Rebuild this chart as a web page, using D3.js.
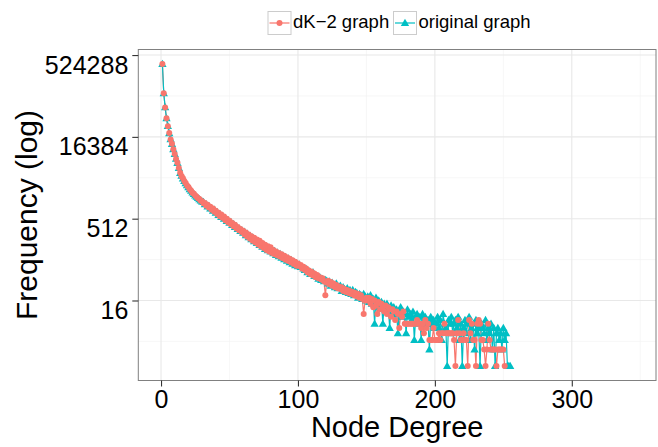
<!DOCTYPE html>
<html>
<head>
<meta charset="utf-8">
<script src="https://cdn.jsdelivr.net/npm/d3@7"></script>
<style>
  html, body { margin: 0; padding: 0; background: #fff; }
  svg { display: block; font-family: "Liberation Sans", Arial, sans-serif; }
</style>
</head>
<body>
<svg id="chart"></svg>
<script>
// Frequency per node degree (degree = index + 1)
const originalGraph = [
  358000, 103500, 57400, 35900, 25900, 19100, 14800, 12100, 9700, 7900,
  6500, 5400, 4400, 3550, 3150, 2820, 2540, 2300, 2110, 1940,
  1790, 1670, 1550, 1460, 1370, 1290, 1225, 1170, 1110, 1060,
  1040, 940, 950, 860, 880, 790, 800, 720, 745, 660,
  680, 600, 625, 550, 575, 510, 525, 465, 480, 430,
  445, 390, 405, 360, 372, 332, 340, 305, 314, 281,
  295, 255, 270, 232, 250, 214, 230, 196, 212, 182,
  198, 168, 182, 156, 170, 142, 158, 134, 150, 128,
  140, 118, 130, 110, 122, 104, 115, 98, 108, 92,
  101, 86, 95, 81, 89, 76, 83, 71, 78, 68,
  74, 66, 66, 62, 58, 61, 53, 56, 49, 51,
  53, 45, 46, 44, 40, 43, 38, 40, 36, 38,
  37, 33, 36, 30, 34, 31, 28, 33, 27, 29,
  30, 24, 28, 26, 23, 27, 22, 25, 21, 25,
  20, 23, 22, 18, 21, 20, 17, 21, 19, 16,
  19, 15, 20, 14, 17, 6, 18, 13, 16, 12,
  15, 6, 14, 11, 14, 12, 5, 13, 10, 12,
  9, 11, 4, 10, 12, 8, 10, 9, 4, 11,
  8, 9, 7, 10, 3, 8, 9, 6, 8, 3,
  9, 7, 8, 6, 7, 2, 8, 6, 7, 5,
  6, 8, 5, 7, 3, 9, 6, 5, 1, 7,
  6, 8, 4, 6, 7, 5, 8, 3, 6, 1,
  5, 7, 4, 6, 8, 3, 5, 6, 2, 7,
  4, 5, 1, 6, 5, 4, 7, 3, 5, 4,
  6, 2, 5, 1, 4, 5, 3, 4, 2, 5,
  3, 4, 1, 1, 1
];

const dk2Graph = [
  358000, 104000, 57000, 36200, 25700, 19300, 14600, 12200, 9650, 7950,
  6450, 5450, 4380, 3580, 3120, 2840, 2520, 2310, 2090, 1950,
  1780, 1680, 1540, 1470, 1360, 1300, 1215, 1180, 1100, 1070,
  980, 1000, 890, 920, 820, 850, 745, 790, 690, 720,
  625, 660, 570, 610, 530, 560, 480, 510, 440, 470,
  405, 425, 370, 395, 340, 360, 315, 330, 290, 306,
  262, 284, 238, 262, 218, 242, 200, 228, 186, 212,
  172, 200, 160, 182, 148, 170, 136, 160, 128, 152,
  120, 136, 114, 128, 108, 120, 102, 114, 96, 106,
  90, 100, 85, 94, 80, 88, 75, 83, 70, 77,
  69, 72, 62, 67, 58, 62, 53, 57, 49, 54,
  46, 50, 43, 47, 41, 43, 39, 41, 36, 20,
  34, 37, 32, 35, 30, 33, 28, 31, 27, 29,
  26, 28, 24, 26, 23, 25, 22, 24, 21, 23,
  20, 22, 19, 21, 18, 20, 17, 9, 16, 18,
  16, 18, 14, 17, 12, 16, 13, 9, 15, 11,
  14, 12, 10, 13, 9, 12, 11, 8, 11, 10,
  7, 10, 9, 5, 9, 8, 10, 6, 6, 6,
  6, 6, 6, 6, 6, 6, 7, 6, 6, 5,
  6, 4, 7, 5, 6, 3, 3, 3, 5, 3,
  3, 3, 4, 3, 4, 4, 6, 4, 4, 4,
  4, 4, 4, 3, 1, 4, 7, 4, 3, 3,
  4, 3, 3, 1, 7, 4, 6, 3, 3, 1,
  6, 7, 6, 3, 3, 2, 1, 2, 6, 3,
  2, 2, 2, 2, 1, 2, 2, 2, 2, 2,
  1
];

const xTicks = [0, 100, 200, 300];
const xMinor = [50, 150, 250, 350];
const yTicks = [16, 512, 16384, 524288];
const yMinor = [Math.pow(2, 1.5), Math.pow(2, 6.5), Math.pow(2, 11.5), Math.pow(2, 16.5)];

const seriesNames = ['dK\u22122 graph', 'original graph'];
const seriesColors = ['#F8766D', '#00BFC4'];

const width = 658, height = 447;
const panel = { left: 138.3, right: 656, top: 49.5, bottom: 380.5 };

const svg = d3.select('#chart')
  .attr('width', width)
  .attr('height', height);

const x = d3.scaleLinear()
  .domain([-16.6, 361.5])
  .range([panel.left, panel.right]);

const y = d3.scaleLog()
  .base(2)
  .domain([Math.pow(2, -0.89), Math.pow(2, 19.34)])
  .range([panel.bottom, panel.top]);

// Grid lines (minor first, then major)
const grid = svg.append('g');
grid.selectAll('.xminor').data(xMinor).enter().append('line')
  .attr('x1', d => x(d)).attr('x2', d => x(d))
  .attr('y1', panel.top).attr('y2', panel.bottom)
  .attr('stroke', '#f4f4f4').attr('stroke-width', 0.7);
grid.selectAll('.yminor').data(yMinor).enter().append('line')
  .attr('x1', panel.left).attr('x2', panel.right)
  .attr('y1', d => y(d)).attr('y2', d => y(d))
  .attr('stroke', '#f4f4f4').attr('stroke-width', 0.7);
grid.selectAll('.xmajor').data(xTicks).enter().append('line')
  .attr('x1', d => x(d)).attr('x2', d => x(d))
  .attr('y1', panel.top).attr('y2', panel.bottom)
  .attr('stroke', '#e8e8e8').attr('stroke-width', 1.1);
grid.selectAll('.ymajor').data(yTicks).enter().append('line')
  .attr('x1', panel.left).attr('x2', panel.right)
  .attr('y1', d => y(d)).attr('y2', d => y(d))
  .attr('stroke', '#e8e8e8').attr('stroke-width', 1.1);

// Series data
const series = [
  { name: seriesNames[0], color: seriesColors[0], shape: 'circle',
    values: dk2Graph.map((v, i) => ({ deg: i + 1, freq: v })) },
  { name: seriesNames[1], color: seriesColors[1], shape: 'triangle',
    values: originalGraph.map((v, i) => ({ deg: i + 1, freq: v })) }
];

svg.append('clipPath').attr('id', 'clip')
  .append('rect')
  .attr('x', panel.left).attr('y', panel.top)
  .attr('width', panel.right - panel.left)
  .attr('height', panel.bottom - panel.top);

const plot = svg.append('g').attr('clip-path', 'url(#clip)');

const line = d3.line()
  .x(d => x(d.deg))
  .y(d => y(d.freq));

// Lines: red then cyan
series.forEach(s => {
  plot.append('path')
    .datum(s.values)
    .attr('fill', 'none')
    .attr('stroke', s.color)
    .attr('stroke-width', 1.2)
    .attr('stroke-linejoin', 'round')
    .attr('d', line);
});

const triangle = d3.symbol().type(d3.symbolTriangle).size(30);

// Points: cyan triangles first, red circles on top
plot.selectAll('.tri')
  .data(series[1].values)
  .enter()
  .append('path')
  .attr('d', triangle)
  .attr('transform', d => `translate(${x(d.deg)},${y(d.freq) + 0.6})`)
  .attr('fill', series[1].color);

plot.selectAll('.dot')
  .data(series[0].values)
  .enter()
  .append('circle')
  .attr('cx', d => x(d.deg))
  .attr('cy', d => y(d.freq))
  .attr('r', 3)
  .attr('fill', series[0].color);

// Panel border
svg.append('rect')
  .attr('x', panel.left).attr('y', panel.top)
  .attr('width', panel.right - panel.left)
  .attr('height', panel.bottom - panel.top)
  .attr('fill', 'none')
  .attr('stroke', '#808080')
  .attr('stroke-width', 1);

// X axis
const xAxis = svg.append('g')
  .attr('transform', `translate(0,${panel.bottom})`)
  .call(d3.axisBottom(x).tickValues(xTicks).tickSize(6).tickPadding(4));
xAxis.select('.domain').remove();
xAxis.selectAll('line').attr('stroke', '#333').attr('stroke-width', 1.1);
xAxis.selectAll('text')
  .attr('fill', '#000')
  .style('font-size', '25px')
  .style('font-family', '"Liberation Sans", Arial, sans-serif');

// Y axis (labels hang just below their ticks, as in the original)
const yAxis = svg.append('g')
  .attr('transform', `translate(${panel.left},0)`)
  .call(d3.axisLeft(y).tickValues(yTicks).tickFormat(d3.format('d')).tickSize(6).tickPadding(4));
yAxis.select('.domain').remove();
yAxis.selectAll('line').attr('stroke', '#333').attr('stroke-width', 1.1);
yAxis.selectAll('text')
  .attr('fill', '#000')
  .attr('dy', '0.72em')
  .attr('y', 0)
  .style('font-size', '25px')
  .style('font-family', '"Liberation Sans", Arial, sans-serif');

// Axis titles
svg.append('text')
  .attr('x', (panel.left + panel.right) / 2)
  .attr('y', 437)
  .attr('text-anchor', 'middle')
  .style('font-size', '29px')
  .text('Node Degree');

svg.append('text')
  .attr('transform', `translate(37,${(panel.top + panel.bottom) / 2}) rotate(-90)`)
  .attr('text-anchor', 'middle')
  .style('font-size', '30px')
  .text('Frequency (log)');

// Legend on top
const legendX = [268, 393.5];
const legend = svg.append('g');
series.forEach((s, i) => {
  const g = legend.append('g').attr('transform', `translate(${legendX[i]},11.5)`);
  g.append('rect')
    .attr('x', 0).attr('y', 0)
    .attr('width', 23).attr('height', 23)
    .attr('fill', '#fff')
    .attr('stroke', '#cccccc')
    .attr('stroke-width', 1);
  g.append('line')
    .attr('x1', 1.5).attr('x2', 21.5)
    .attr('y1', 11.5).attr('y2', 11.5)
    .attr('stroke', s.color)
    .attr('stroke-width', 1.2);
  if (s.shape === 'circle') {
    g.append('circle').attr('cx', 11.5).attr('cy', 11.5).attr('r', 3).attr('fill', s.color);
  } else {
    g.append('path').attr('d', triangle)
      .attr('transform', 'translate(11.5,12.1)')
      .attr('fill', s.color);
  }
  g.append('text')
    .attr('x', 25)
    .attr('y', 16.5)
    .style('font-size', '18.5px')
    .text(s.name);
});
</script>
</body>
</html>
